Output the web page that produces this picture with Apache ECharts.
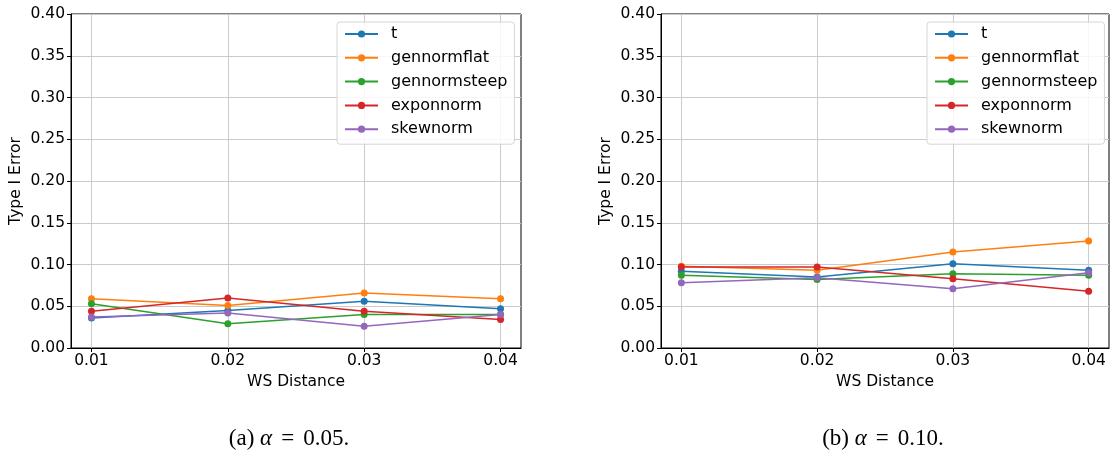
<!DOCTYPE html>
<html>
<head>
<meta charset="utf-8">
<script src="https://cdn.jsdelivr.net/npm/echarts@6/dist/echarts.min.js"></script>
<style>
  html, body { margin: 0; padding: 0; background: #fff; }
  #chart { width: 1111px; height: 450px; }
</style>
</head>
<body>
<div id="chart"></div>
<script>
var wsDistance = [0.01, 0.02, 0.03, 0.04];
var seriesNames = ["t", "gennormflat", "gennormsteep", "exponnorm", "skewnorm"];
var colors = ["#1f77b4", "#ff7f0e", "#2ca02c", "#d62728", "#9467bd"];

// (a) alpha = 0.05
var a05_t            = [0.036, 0.045, 0.056, 0.047];
var a05_gennormflat  = [0.059, 0.051, 0.066, 0.059];
var a05_gennormsteep = [0.053, 0.029, 0.040, 0.040];
var a05_exponnorm    = [0.044, 0.060, 0.044, 0.034];
var a05_skewnorm     = [0.037, 0.042, 0.026, 0.040];

// (b) alpha = 0.10
var a10_t            = [0.092, 0.085, 0.101, 0.093];
var a10_gennormflat  = [0.098, 0.093, 0.115, 0.128];
var a10_gennormsteep = [0.087, 0.082, 0.089, 0.087];
var a10_exponnorm    = [0.097, 0.097, 0.083, 0.068];
var a10_skewnorm     = [0.078, 0.084, 0.071, 0.090];

var panelA = [a05_t, a05_gennormflat, a05_gennormsteep, a05_exponnorm, a05_skewnorm];
var panelB = [a10_t, a10_gennormflat, a10_gennormsteep, a10_exponnorm, a10_skewnorm];

var font = "DejaVu Sans";

function pairs(vals) {
  var out = [];
  for (var i = 0; i < wsDistance.length; i++) out.push([wsDistance[i], vals[i]]);
  return out;
}

function makeX(idx) {
  return {
    type: "value", gridIndex: idx, min: 0.0085, max: 0.0415,
    name: "WS Distance", nameLocation: "middle", nameGap: 26,
    nameTextStyle: { color: "#000", fontFamily: font, fontSize: 15.5 },
    axisLine: { show: true, lineStyle: { color: "#000", width: 1 } },
    axisTick: { show: true, length: 4, lineStyle: { color: "#000" }, customValues: wsDistance },
    axisLabel: { color: "#000", fontFamily: font, fontSize: 15.5, margin: 5,
      customValues: wsDistance, formatter: function (v) { return v.toFixed(2); } },
    splitLine: { show: true, lineStyle: { color: "#cbcbcb", width: 1 } }
  };
}

function makeY(idx) {
  return {
    type: "value", gridIndex: idx, min: 0, max: 0.4, interval: 0.05,
    name: "Type I Error", nameLocation: "middle", nameGap: 47,
    nameTextStyle: { color: "#000", fontFamily: font, fontSize: 15.5 },
    axisLine: { show: true, lineStyle: { color: "#000", width: 1 } },
    axisTick: { show: true, length: 4, lineStyle: { color: "#000" } },
    axisLabel: { color: "#000", fontFamily: font, fontSize: 15.5, margin: 6,
      formatter: function (v) { return v.toFixed(2); } },
    splitLine: { show: true, lineStyle: { color: "#cbcbcb", width: 1 } }
  };
}

function makeLegend(left) {
  return {
    orient: "vertical", left: left, top: 22,
    data: seriesNames,
    itemWidth: 33, itemHeight: 9, itemGap: 7.8,
    padding: [4, 7, 7, 7],
    borderColor: "#d6d6d6", borderWidth: 1, borderRadius: 3,
    backgroundColor: "rgba(255,255,255,0.85)",
    textStyle: { color: "#000", fontFamily: font, fontSize: 16, lineHeight: 16, padding: [0, 0, 0, 8] }
  };
}

var series = [];
[panelA, panelB].forEach(function (panel, g) {
  panel.forEach(function (vals, i) {
    series.push({
      name: seriesNames[i], type: "line",
      xAxisIndex: g, yAxisIndex: g,
      data: pairs(vals),
      symbol: "circle", symbolSize: 7, showSymbol: true,
      lineStyle: { width: 1.5, color: colors[i] },
      itemStyle: { color: colors[i] },
      emphasis: { disabled: true },
      animation: false
    });
  });
});

function caption(letter, val) {
  return "{t|(" + letter + ") }{a|α}{e|=}{t|" + val + ".}";
}

var capRich = {
  t: { fontFamily: "Liberation Serif", fontSize: 23, fontWeight: "normal", color: "#000" },
  a: { fontFamily: "Liberation Serif", fontSize: 23, fontWeight: "normal", fontStyle: "italic", color: "#000" },
  e: { fontFamily: "Liberation Serif", fontSize: 23, fontWeight: "normal", color: "#000", padding: [0, 9, 0, 9] }
};

var chart = echarts.init(document.getElementById("chart"));
chart.setOption({
  animation: false,
  color: colors,
  title: [
    { text: caption("a", "0.05"), left: 284, top: 422, textAlign: "center",
      textStyle: { fontWeight: "normal", rich: capRich } },
    { text: caption("b", "0.10"), left: 878, top: 422, textAlign: "center",
      textStyle: { fontWeight: "normal", rich: capRich } }
  ],
  grid: [
    { left: 71, top: 14, width: 450, height: 334, show: true, borderColor: "#000", borderWidth: 1, backgroundColor: "transparent" },
    { left: 661, top: 14, width: 448, height: 334, show: true, borderColor: "#000", borderWidth: 1, backgroundColor: "transparent" }
  ],
  xAxis: [makeX(0), makeX(1)],
  yAxis: [makeY(0), makeY(1)],
  legend: [makeLegend(337), makeLegend(927)],
  tooltip: { show: false },
  series: series
});
</script>
</body>
</html>
